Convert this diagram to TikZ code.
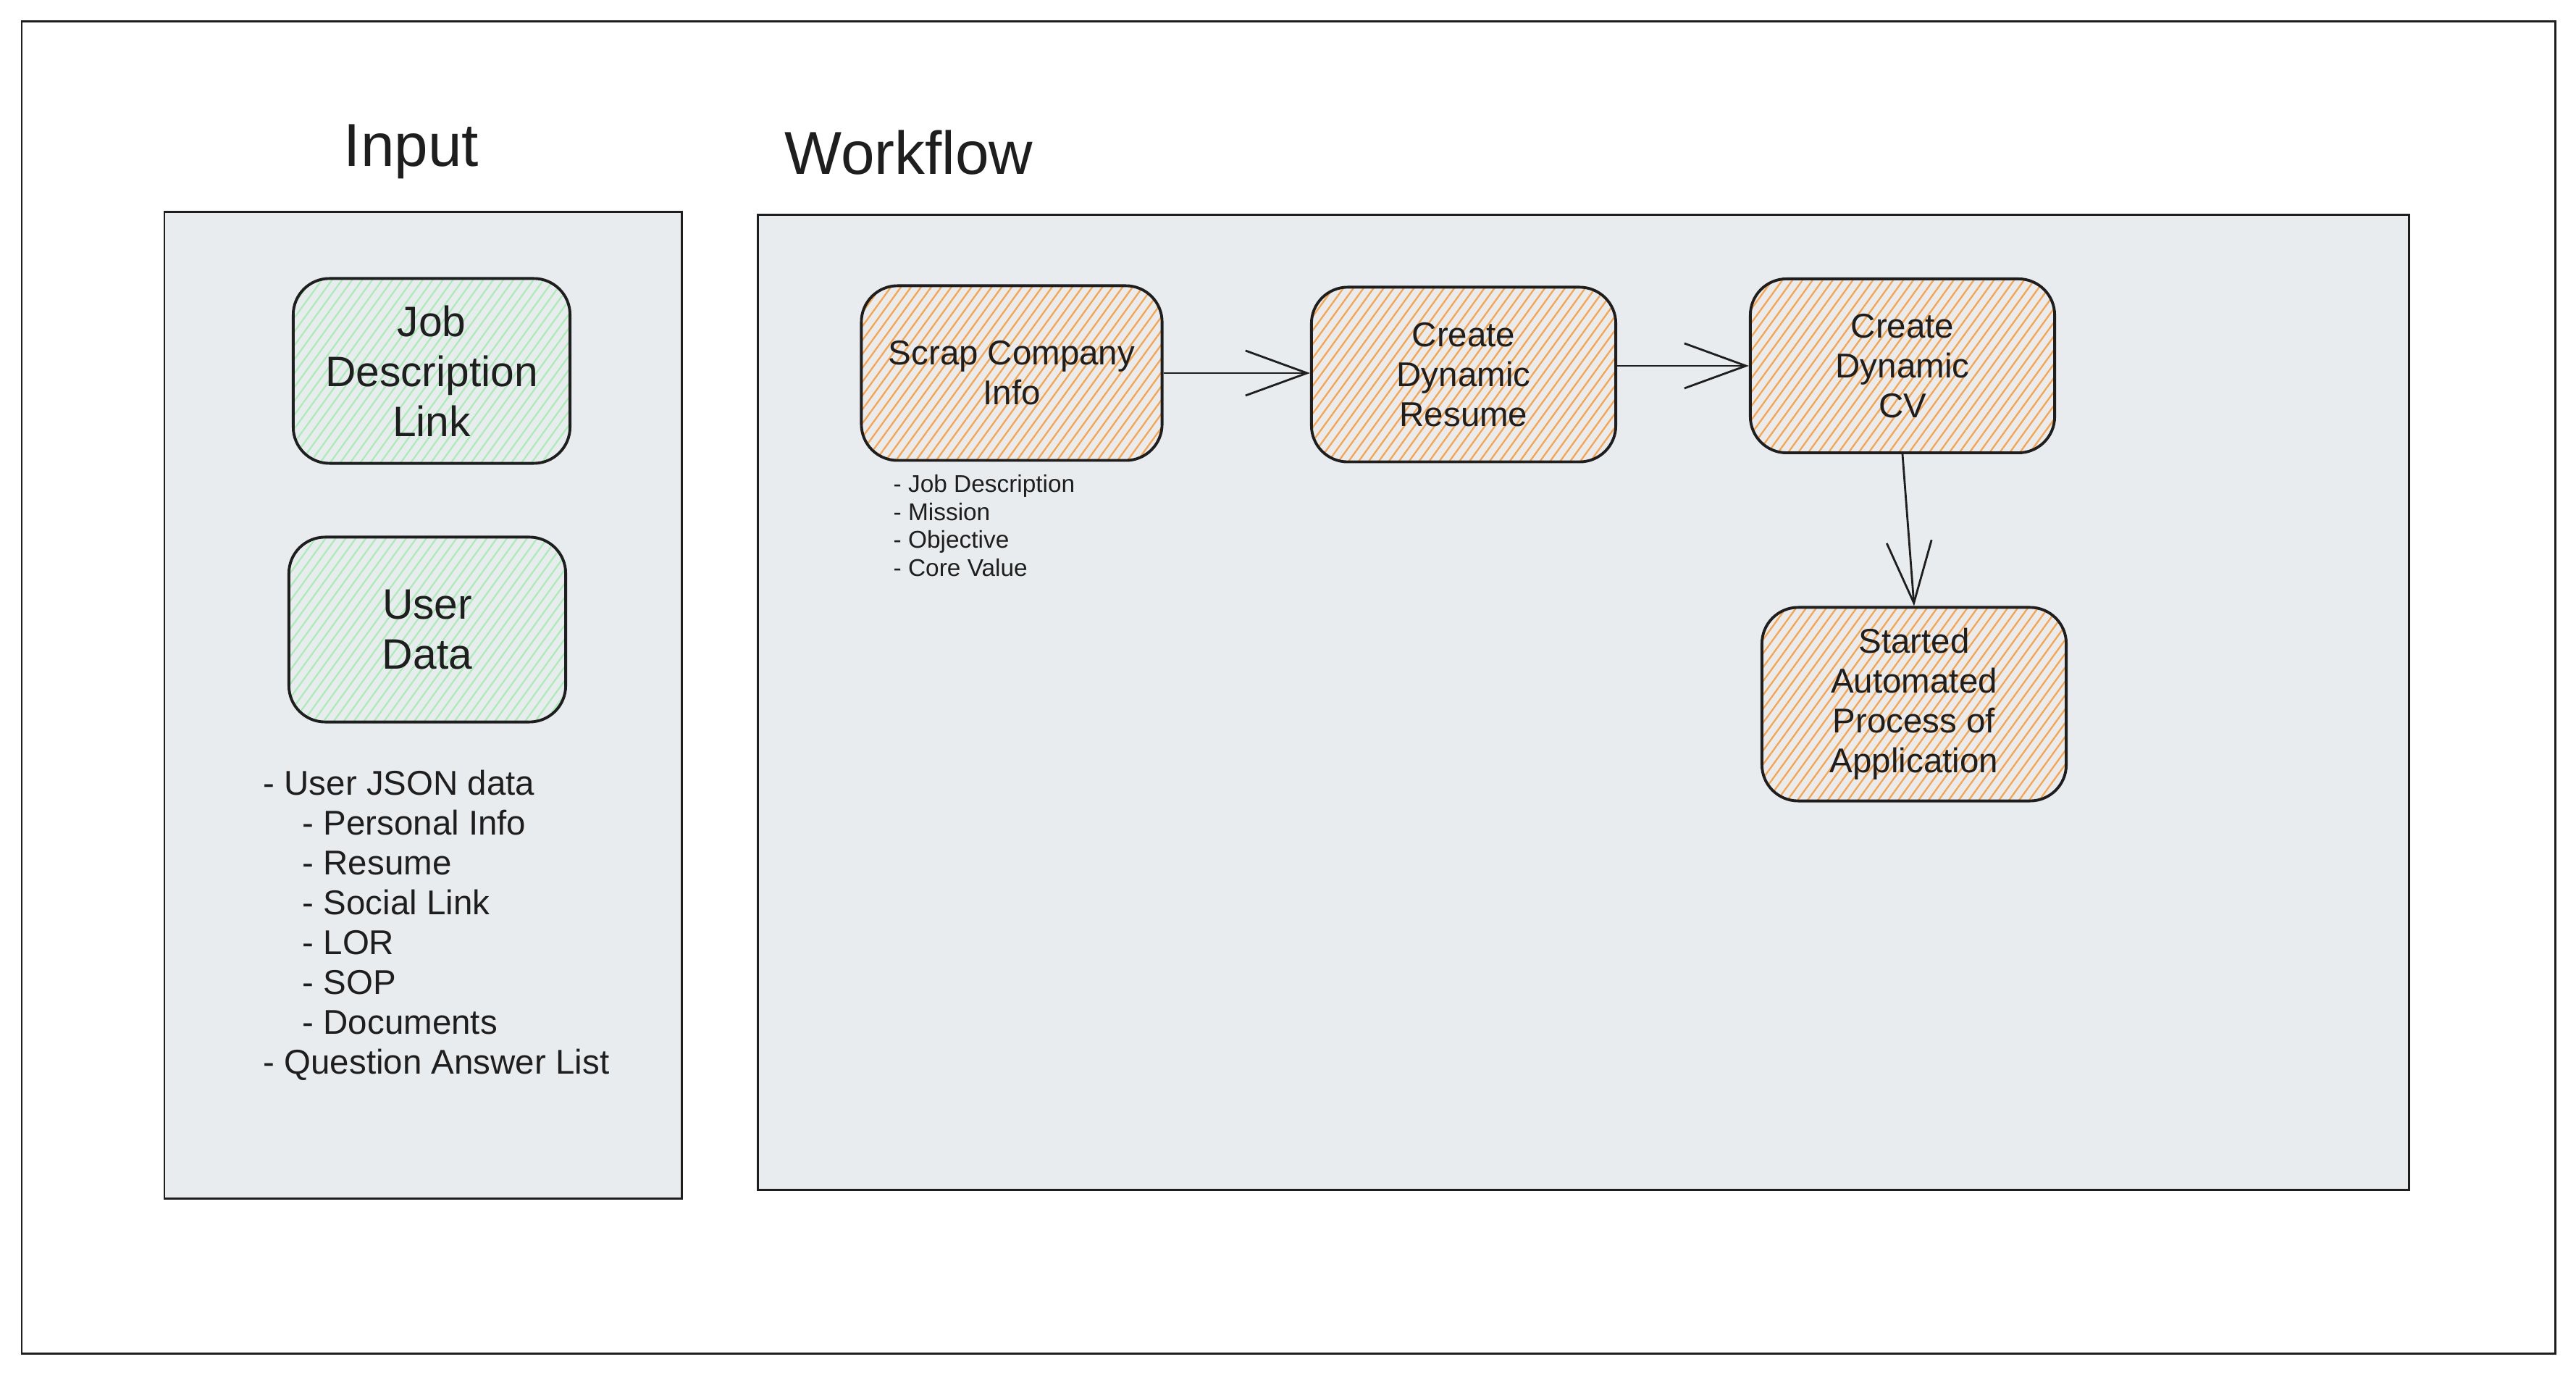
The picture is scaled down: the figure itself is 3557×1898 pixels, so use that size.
\documentclass[tikz,border=0pt]{standalone}
\usepackage{fontspec}
\setmainfont{Liberation Sans}
\usetikzlibrary{arrows.meta,patterns.meta}

\definecolor{inkblack}{HTML}{1E1E1E}
\definecolor{panelgray}{HTML}{E9ECEF}
\definecolor{hatchgreen}{HTML}{A9EEB3}
\definecolor{hatchorange}{HTML}{FCA445}

\begin{document}
\begin{tikzpicture}[x=0.01cm, y=-0.01cm,
    panel/.style={draw=inkblack, line width=0.85pt, fill=panelgray},
    stepbox/.style={draw=inkblack, line width=1.1pt, rounded corners=0.5cm,
        align=center, text=inkblack, inner sep=0pt,
        minimum width=4.2cm, minimum height=2.41cm,
        font=\fontsize{13.5}{15.65}\selectfont,
        pattern={Lines[angle=54, distance=3.2pt, line width=0.65pt]},
        pattern color=hatchorange},
    inbox/.style={stepbox, minimum width=3.82cm, minimum height=2.55cm,
        font=\fontsize{16.7}{19.6}\selectfont, pattern color=hatchgreen},
    flow/.style={draw=inkblack, line width=0.8pt,
        -{Straight Barb[length=0.85cm, width=0.62cm]}},
    title/.style={anchor=base, text=inkblack, font=\fontsize{23.8}{28}\selectfont},
    item/.style={anchor=base west, inner sep=0pt, text=inkblack}
]
    % Page
    \fill[white] (0,0) rectangle (3557,1898);
    \useasboundingbox (0,0) rectangle (3557,1898);
    \draw[inkblack, line width=0.85pt] (30,30) rectangle (3528,1868);

    % Panels
    \draw[panel] (227,293) rectangle (941,1654);
    \draw[panel] (1046,297) rectangle (3326,1642);

    % Titles
    \node[title] (inTitle) at (568,230) {Input};
    \node[title] (wfTitle) at (1255,241) {Workflow};

    % Input boxes
    \node[inbox] (jobLink) at (596,512) {Job\\Description\\Link};
    \node[inbox] (userData) at (590,869) {User\\Data};

    % Input data list
    \foreach \ind/\txt [count=\i from 0] in {0/- User JSON data, 1/- Personal Info,
        1/- Resume, 1/- Social Link, 1/- LOR, 1/- SOP, 1/- Documents,
        0/- Question Answer List}
        \node[item, font=\fontsize{13.5}{15.65}\selectfont] (userItem\i)
            at ({363+54*\ind}, {1097+55.1*\i}) {\txt};

    % Workflow steps
    \node[stepbox, minimum width=4.15cm] (scrap) at (1397,515) {Scrap Company\\Info};
    \node[stepbox] (resume) at (2021,517) {Create\\Dynamic\\Resume};
    \node[stepbox, minimum height=2.4cm] (cv) at (2627,505) {Create\\Dynamic\\CV};
    \node[stepbox, minimum height=2.67cm] (started) at (2643,972)
        {Started\\Automated\\Process of\\Application};

    % Scraped fields
    \foreach \txt [count=\i from 0] in {- Job Description, - Mission, - Objective, - Core Value}
        \node[item, font=\fontsize{9.5}{11}\selectfont] (scrapItem\i)
            at (1233, {680+38.5*\i}) {\txt};

    % Arrows
    \draw[flow] (scrap.east) -- (scrap.east -| resume.west);
    \draw[flow] (resume.east |- cv.west) -- (cv.west);
    \draw[flow] (cv.south) -- (started.north);
\end{tikzpicture}
\end{document}
